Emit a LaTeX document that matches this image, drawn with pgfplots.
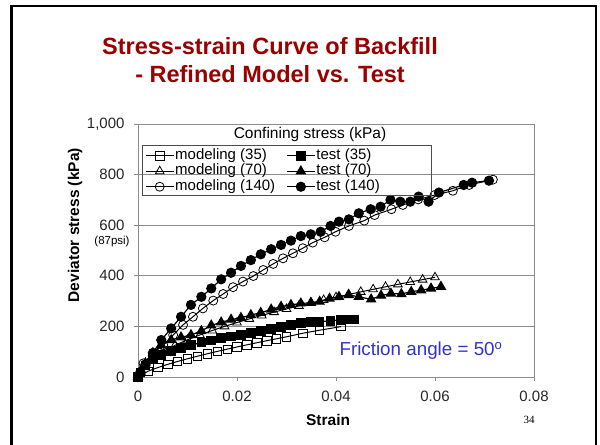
\documentclass[border=0pt]{standalone}
\usepackage{fontspec}
\setmainfont{Liberation Sans}
\newfontfamily\serifpg{Liberation Serif}
\usepackage{pgfplots}
\pgfplotsset{compat=1.18}
\definecolor{titlered}{HTML}{990000}
\definecolor{axgray}{HTML}{8C8C8C}
\definecolor{noteblue}{HTML}{3333CC}

\begin{document}
\begin{tikzpicture}[x=1bp,y=1bp]
\useasboundingbox (0,0) rectangle (600,445);
% slide frame
\draw[line width=2.5bp] (11.5,-3) -- (11.5,439) -- (596,439) -- (596,-3);
\node[font=\bfseries\fontsize{23.5bp}{28bp}\selectfont, text=titlered, align=center] at (270,385) {Stress-strain Curve of Backfill\\- Refined Model vs. Test};

\begin{axis}[
    at={(138bp,68bp)}, anchor=south west,
    width=396bp, height=253bp, scale only axis,
    xmin=0, xmax=0.08, ymin=0, ymax=1000,
    xtick={0,0.02,0.04,0.06,0.08},
    xticklabels={0,0.02,0.04,0.06,0.08},
    scaled x ticks=false, scaled y ticks=false,
    ytick={0,200,400,600,800,1000},
    yticklabels={0,200,400,600,800,{1,000}},
    /pgf/number format/assume math mode=true,
    axis line style={axgray, line width=0.8bp},
    tick style={axgray, line width=0.8bp},
    tick align=outside, tick pos=left, major tick length=4bp,
    ymajorgrids, grid style={axgray, line width=0.8bp},
    ticklabel style={font=\fontsize{15bp}{17bp}\selectfont, text=black!85},
    xticklabel style={yshift=-7bp},
    yticklabel style={xshift=-6bp},
    xlabel={Strain}, ylabel={Deviator stress (kPa)},
    label style={font=\bfseries\fontsize{15.5bp}{18bp}\selectfont},
    xlabel style={at={(axis description cs:0.48,-0.17)}, anchor=center},
    ylabel style={at={(axis description cs:-0.159,0.6)}, anchor=center},
    clip=false,
    legend columns=2,
    legend cell align=left,
    legend style={at={(axis description cs:0.0177,0.906)}, anchor=north west,
        draw=none, fill=none, inner sep=0pt, row sep=0pt,
        font=\fontsize{15bp}{16bp}\selectfont,
        nodes={inner sep=1bp, text height=10.5bp, text depth=3bp},
        /tikz/every even column/.append style={column sep=10bp}},
    legend image code/.code={\draw[mark repeat=2,mark phase=2,#1] plot coordinates {(0bp,0bp) (14bp,0bp) (28bp,0bp)};},
]
% modeling (35)
\addplot[black, line width=1bp, mark=square, mark size=4.2bp, mark options={line width=0.8bp}] coordinates {
(0,0) (0.002,22.6) (0.004,37.2) (0.006,49.9) (0.008,61.4) (0.010,72.1) (0.012,82.1)
(0.014,91.8) (0.016,101.1) (0.018,110.0) (0.020,118.7) (0.022,127.1) (0.024,135.3)
(0.026,143.4) (0.028,151.2) (0.030,158.9) (0.0333,173) (0.0367,185) (0.041,199)};
\addlegendentry{modeling (35)}
% test (35)
\addplot[black, line width=1.2bp, mark=square*, mark size=4.2bp, mark options={fill=black}] coordinates {
(0,0) (0.0005,18) (0.0015,45) (0.003,70) (0.0047,88) (0.0067,102) (0.0087,115)
(0.0107,126) (0.0128,136) (0.0148,145) (0.0168,153) (0.0188,160) (0.0208,167)
(0.0228,174) (0.0248,181) (0.0269,190) (0.0289,198) (0.0309,205) (0.0329,213)
(0.0349,217) (0.0367,219) (0.0389,222) (0.0410,226) (0.0426,228) (0.0437,228)};
\addlegendentry{test (35)}
% modeling (70)
\addplot[black, line width=1bp, mark=triangle, mark size=5bp, mark options={line width=0.8bp}] coordinates {
(0,0) (0.001,41) (0.0025,68.6) (0.005,100.4) (0.0075,125.5) (0.010,147.1) (0.0125,166.3)
(0.015,183.8) (0.0175,200.1) (0.020,215.3) (0.0225,229.7) (0.025,243.4) (0.0275,256.5)
(0.030,269.1) (0.0325,281.2) (0.035,292.9) (0.0375,304.2) (0.040,315.2) (0.0425,325.9)
(0.045,336.4) (0.0475,346.5) (0.050,356.4) (0.0525,366.1) (0.055,375.6) (0.0575,384.9)
(0.060,394)};
\addlegendentry{modeling (70)}
% test (70)
\addplot[black, line width=1.2bp, mark=triangle*, mark size=5bp, mark options={fill=black}] coordinates {
(0,0) (0.0005,22) (0.0015,55) (0.003,95) (0.0047,126) (0.0067,146) (0.0087,157)
(0.0107,166) (0.0128,182) (0.0148,204) (0.0168,216) (0.0188,227) (0.0208,234)
(0.0228,245) (0.0248,254) (0.0269,267) (0.0289,278) (0.0309,285) (0.0329,291)
(0.0349,293) (0.0367,298) (0.0387,310) (0.0406,317) (0.0426,324) (0.0446,317)
(0.0471,307) (0.0491,322) (0.0511,330) (0.0532,328) (0.0552,337) (0.0572,343)
(0.0592,350) (0.0612,357)};
\addlegendentry{test (70)}
% modeling (140)
\addplot[black, line width=1bp, mark=o, mark size=4.5bp, mark options={line width=0.8bp}] coordinates {
(0,0) (0.0011,54) (0.0031,94) (0.0051,126) (0.0071,166) (0.0091,206) (0.0111,238)
(0.0131,271) (0.0152,302) (0.0172,328) (0.0192,355) (0.0212,377) (0.0233,399)
(0.0253,423) (0.0273,447) (0.0293,469) (0.0313,489) (0.0333,509) (0.0353,531)
(0.0377,552) (0.0399,574) (0.0426,597) (0.0457,618) (0.0478,640) (0.0512,663)
(0.0535,680) (0.0566,702) (0.0599,719) (0.0636,736) (0.0669,759) (0.0717,780)};
\addlegendentry{modeling (140)}
% test (140)
\addplot[black, line width=1.2bp, mark=*, mark size=4.5bp, mark options={fill=black}] coordinates {
(0,0) (0.0005,20) (0.0015,50) (0.003,95) (0.0047,146) (0.0067,192) (0.0087,238)
(0.0107,285) (0.0128,317) (0.0148,350) (0.0168,386) (0.0188,412) (0.0208,439)
(0.0228,462) (0.0248,485) (0.0269,505) (0.0289,522) (0.0309,539) (0.0329,557)
(0.0349,564) (0.0369,574) (0.0389,597) (0.0406,614) (0.0426,623) (0.0446,647)
(0.0470,663) (0.0490,673) (0.0510,700) (0.0530,693) (0.0550,693) (0.0567,713)
(0.0587,693) (0.0608,729) (0.0658,759) (0.0675,768) (0.0709,776)};
\addlegendentry{test (140)}
\end{axis}

% legend frame and title
\draw[black!70, line width=0.8bp] (142,300) rectangle (431,250);
\node[font=\fontsize{15.5bp}{17bp}\selectfont] at (310,310) {Confining stress (kPa)};
\node[font=\fontsize{11.5bp}{13bp}\selectfont] at (112,203) {(87psi)};
\node[anchor=west, text=noteblue, font=\fontsize{18.8bp}{21bp}\selectfont] at (336,94) {Friction angle = 50\textsuperscript{o}};
\node[font=\serifpg\fontsize{11bp}{12bp}\selectfont] at (529,25) {34};
\end{tikzpicture}
\end{document}
